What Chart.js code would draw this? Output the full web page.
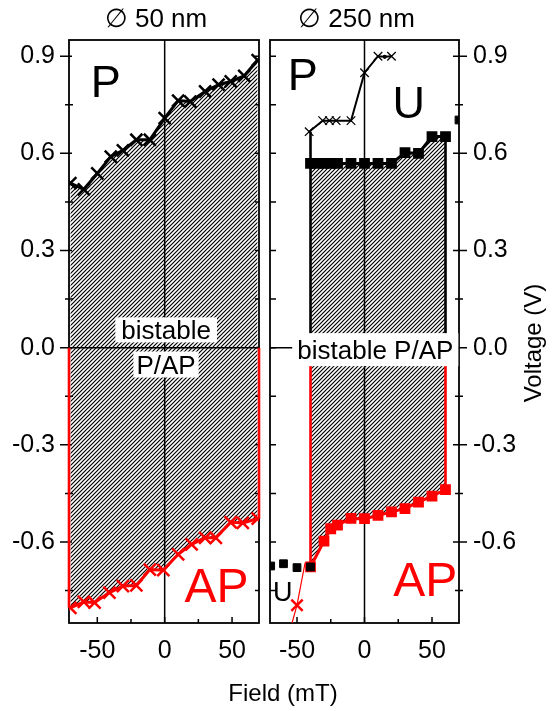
<!DOCTYPE html>
<html>
<head>
<meta charset="utf-8">
<script src="https://cdn.jsdelivr.net/npm/chart.js@4.4.0/dist/chart.umd.min.js"></script>
<style>
  html, body { margin: 0; padding: 0; background: #fff; }
  #wrap { position: relative; width: 554px; height: 711px; }
  canvas { position: absolute; left: 0; top: 0; }
</style>
</head>
<body>
<div id="wrap">
  <canvas id="left" width="554" height="711"></canvas>
  <canvas id="right" width="554" height="711"></canvas>
</div>
<script>
// ---- data ----
// 50 nm pillar
var p50Field  = [-70, -60, -50, -40, -31, -21, -11, 0, 10, 19, 30, 40, 49, 59, 69];
var p50V      = [0.508, 0.489, 0.538, 0.590, 0.609, 0.642, 0.642, 0.709, 0.763, 0.760, 0.791, 0.812, 0.822, 0.839, 0.888];
var ap50Field = [-70, -60, -52, -41, -31, -21, -11, -1, 10, 20, 30, 38, 49, 58, 69];
var ap50V     = [-0.803, -0.785, -0.787, -0.756, -0.736, -0.734, -0.685, -0.687, -0.638, -0.607, -0.587, -0.587, -0.539, -0.541, -0.528];

// 250 nm pillar
var p250Field  = [-40, -35, -30, -25, -20, -10, 0, 10, 20, 30, 40, 50, 60];
var p250V      = [0.569, 0.569, 0.569, 0.569, 0.569, 0.569, 0.569, 0.569, 0.569, 0.602, 0.600, 0.652, 0.652];
var ap250Field = [-40, -30, -25, -20, -10, 0, 10, 20, 30, 40, 50, 60];
var ap250V     = [-0.677, -0.597, -0.559, -0.548, -0.527, -0.528, -0.518, -0.507, -0.497, -0.477, -0.458, -0.438];
var pHighField = [70];
var pHighV     = [0.703];
var uHighField = [-41, -31, -26, -21, -10, 0, 10, 15, 20];
var uHighV     = [0.667, 0.701, 0.701, 0.701, 0.701, 0.849, 0.900, 0.898, 0.900];
var uLowField  = [-69.5, -60, -50, -40];
var uLowV      = [-0.674, -0.667, -0.679, -0.677];
var apUField   = [-44, -50, -57];
var apUV       = [-0.664, -0.795, -0.900];

// ticks
var yTicks = [-0.6, -0.3, 0, 0.3, 0.6, 0.9];
var xTicks = [-50, 0, 50];
var yMin = -0.85, yMax = 0.95;

var FONT = '"Liberation Sans", Arial, sans-serif';
Chart.defaults.font.family = FONT;
Chart.defaults.color = '#000';

function pts(xs, ys) {
  return xs.map(function (x, i) { return { x: x, y: ys[i] }; });
}

function hatch() {
  var c = document.createElement('canvas');
  c.width = 4; c.height = 4;
  var g = c.getContext('2d');
  g.strokeStyle = '#000';
  g.lineWidth = 1.2;
  g.beginPath();
  g.moveTo(0, 4); g.lineTo(4, 0);
  g.moveTo(-1, 1); g.lineTo(1, -1);
  g.moveTo(3, 5); g.lineTo(5, 3);
  g.stroke();
  return g.createPattern(c, 'repeat');
}

// frame, zero lines and tick marks (in/out lengths per side)
var framePlugin = {
  id: 'frame',
  beforeDatasetsDraw: function (chart, args, opts) {
    var ctx = chart.ctx, a = chart.chartArea;
    var xs = chart.scales.x, ys = chart.scales.y;
    ctx.save();
    ctx.strokeStyle = '#000';
    ctx.lineWidth = 1.5;
    ctx.beginPath();
    var x0 = xs.getPixelForValue(0), y0 = ys.getPixelForValue(0);
    ctx.moveTo(x0, a.top); ctx.lineTo(x0, a.bottom);
    ctx.moveTo(a.left, y0); ctx.lineTo(a.right, y0);
    ctx.stroke();

    function minors(major, min, max) {
      var step = major[1] - major[0];
      var out = major.map(function (v) { return v - step / 2; });
      out.push(major[major.length - 1] + step / 2);
      return out.filter(function (v) { return v > min && v < max; });
    }
    ctx.lineWidth = 1.5;
    ctx.beginPath();
    var yMaj = yTicks, yMinr = minors(yTicks, yMin, yMax);
    function side(spec, isLeft) {
      if (!spec) return;
      var ex = isLeft ? a.left : a.right;
      var sgn = isLeft ? -1 : 1;
      yMaj.forEach(function (v) {
        var p = ys.getPixelForValue(v);
        ctx.moveTo(ex + sgn * spec[0], p); ctx.lineTo(ex - sgn * spec[1], p);
      });
      yMinr.forEach(function (v) {
        var p = ys.getPixelForValue(v);
        ctx.moveTo(ex + sgn * spec[2], p); ctx.lineTo(ex - sgn * spec[3], p);
      });
    }
    side(opts.left, true);
    side(opts.right, false);
    if (opts.bottom) {
      var b = opts.bottom;
      xTicks.forEach(function (v) {
        var p = xs.getPixelForValue(v);
        ctx.moveTo(p, a.bottom + b[0]); ctx.lineTo(p, a.bottom - b[1]);
      });
      minors(xTicks, xs.min, xs.max).forEach(function (v) {
        var p = xs.getPixelForValue(v);
        ctx.moveTo(p, a.bottom + b[2]); ctx.lineTo(p, a.bottom - b[3]);
      });
    }
    ctx.stroke();
    ctx.lineWidth = 1.8;
    ctx.strokeRect(a.left, a.top, a.right - a.left, a.bottom - a.top);
    ctx.restore();
  }
};

// text inside and around the panels
var textPlugin = {
  id: 'texts',
  afterDraw: function (chart, args, opts) {
    var ctx = chart.ctx, a = chart.chartArea;
    var xs = chart.scales.x, ys = chart.scales.y;
    ctx.save();
    (opts.items || []).forEach(function (it) {
      var cx = xs.getPixelForValue(it.x), cy = ys.getPixelForValue(it.y);
      ctx.font = it.size + 'px ' + FONT;
      ctx.textAlign = 'center';
      ctx.textBaseline = 'alphabetic';
      if (it.box) {
        var w = ctx.measureText(it.text).width + 2 * it.padX;
        ctx.fillStyle = '#fff';
        ctx.fillRect(cx - w / 2, cy - it.h / 2, w, it.h);
      }
      ctx.fillStyle = it.color || '#000';
      ctx.fillText(it.text, cx, cy + it.size * 0.716 / 2);
    });
    ctx.fillStyle = '#000';
    if (opts.title) {
      ctx.font = '26px ' + FONT;
      ctx.textAlign = 'center';
      ctx.fillText(opts.title, (a.left + a.right) / 2 - 8, 27);
    }
    if (opts.xTitle) {
      ctx.font = '24px ' + FONT;
      ctx.textAlign = 'center';
      ctx.fillText(opts.xTitle, 283, 701);
    }
    if (opts.yTitle) {
      ctx.font = '24px ' + FONT;
      ctx.textAlign = 'center';
      ctx.textBaseline = 'middle';
      ctx.translate(534, 343);
      ctx.rotate(-Math.PI / 2);
      ctx.fillText(opts.yTitle, 0, 0);
    }
    ctx.restore();
  }
};

function scales(xmin, xmax, yPos, yWidth) {
  return {
    x: {
      type: 'linear', min: xmin, max: xmax,
      grid: { display: false }, border: { display: false },
      afterBuildTicks: function (s) { s.ticks = xTicks.map(function (v) { return { value: v }; }); },
      afterFit: function (s) { s.height = 88; },
      ticks: { font: { size: 25 }, padding: 5, maxRotation: 0, callback: function (v) { return String(v); } }
    },
    y: {
      type: 'linear', position: yPos, min: yMin, max: yMax,
      grid: { display: false }, border: { display: false },
      afterBuildTicks: function (s) { s.ticks = yTicks.map(function (v) { return { value: v }; }); },
      afterFit: function (s) { s.width = yWidth; },
      ticks: { font: { size: 25 }, padding: 6, callback: function (v) { return v.toFixed(1); } }
    }
  };
}

function edge(x, y1, y2, color) {
  return {
    data: [{ x: x, y: y1 }, { x: x, y: y2 }],
    borderColor: color, borderWidth: 2.6, pointRadius: 0, fill: false, clip: false
  };
}

var common = {
  responsive: false,
  animation: false,
  events: [],
  plugins: { legend: { display: false }, tooltip: { enabled: false }, filler: { drawTime: 'beforeDatasetsDraw' } }
};

// ---- left panel: 50 nm ----
new Chart(document.getElementById('left').getContext('2d'), {
  type: 'line',
  data: {
    datasets: [
      {
        data: pts(p50Field, p50V), borderColor: '#000', borderWidth: 3,
        pointStyle: 'crossRot', pointRadius: 8.5, pointBorderWidth: 2.5, pointBorderColor: '#000',
        fill: 1, backgroundColor: hatch()
      },
      {
        data: pts(ap50Field, ap50V), borderColor: '#f00', borderWidth: 3,
        pointStyle: 'crossRot', pointRadius: 8.5, pointBorderWidth: 2.5, pointBorderColor: '#f00', fill: false
      },
      edge(-71, 0, ap50V[0], '#f00'),
      edge(70, 0, ap50V[ap50V.length - 1], '#f00')
    ]
  },
  options: Object.assign({}, common, {
    layout: { padding: { left: 0, right: 295, top: 40, bottom: 0 } },
    scales: scales(-71, 70, 'left', 69),
    plugins: Object.assign({}, common.plugins, {
      frame: { left: [9, 3, 4, 4], right: [0, 4, 0, 4], bottom: [0, 6, 0, 4] },
      texts: {
        title: '\u2205 50 nm',
        items: [
          { text: 'P', x: -43.7, y: 0.823, size: 45 },
          { text: 'AP', x: 38.5, y: -0.731, size: 48, color: '#f00' },
          { text: 'bistable', x: 1.1, y: 0.055, size: 26, box: true, padX: 6, h: 25 },
          { text: 'P/AP', x: 1, y: -0.052, size: 26, box: true, padX: 3, h: 26 }
        ]
      }
    })
  }),
  plugins: [framePlugin, textPlugin]
});

// ---- right panel: 250 nm ----
new Chart(document.getElementById('right').getContext('2d'), {
  type: 'line',
  data: {
    datasets: [
      {
        data: pts(uLowField, uLowV), showLine: false, pointStyle: 'rect', pointRadius: 5.5,
        pointBackgroundColor: '#000', pointBorderColor: '#000', pointBorderWidth: 1, fill: false
      },
      {
        data: pts(uHighField, uHighV), borderColor: '#000', borderWidth: 2,
        pointStyle: ['crossRot', 'crossRot', 'crossRot', 'crossRot', 'crossRot', 'crossRot', 'crossRot', 'circle', 'crossRot'],
        pointRadius: [6, 6, 6, 6, 6, 6, 6, 1.5, 6], pointBorderWidth: 1.3,
        pointBorderColor: '#000', pointBackgroundColor: '#000', fill: false
      },
      {
        data: pts(pHighField, pHighV), showLine: false, pointStyle: 'rect', pointRadius: 5.5,
        pointBackgroundColor: '#000', pointBorderColor: '#000', fill: false
      },
      edge(-40, p250V[0], uHighV[0], '#000'),
      {
        data: pts(p250Field, p250V), borderColor: '#000', borderWidth: 3,
        pointStyle: 'rect', pointRadius: 5.5, pointBackgroundColor: '#000', pointBorderColor: '#000',
        fill: 5, backgroundColor: hatch()
      },
      {
        data: pts(ap250Field, ap250V), borderColor: '#f00', borderWidth: 3,
        pointStyle: 'rect', pointRadius: 5.5, pointBackgroundColor: '#f00', pointBorderColor: '#f00', fill: false
      },
      {
        data: pts(apUField, apUV), borderColor: '#f00', borderWidth: 1.2,
        pointStyle: 'crossRot', pointRadius: [0, 8, 0], pointBorderWidth: 2.5, pointBorderColor: '#f00', fill: false
      },
      edge(-40, p250V[0], 0, '#000'),
      edge(60, p250V[p250V.length - 1], 0, '#000'),
      edge(-40, 0, -0.69, '#f00'),
      edge(60, 0, ap250V[ap250V.length - 1], '#f00')
    ]
  },
  options: Object.assign({}, common, {
    layout: { padding: { left: 270, right: 0, top: 40, bottom: 0 } },
    scales: scales(-70, 70, 'right', 95),
    plugins: Object.assign({}, common.plugins, {
      frame: { left: [0, 6, 0, 6], right: [8, 6, 4, 4], bottom: [0, 6, 0, 4] },
      texts: {
        title: '\u2205 250 nm',
        xTitle: 'Field (mT)',
        yTitle: 'Voltage (V)',
        items: [
          { text: 'P', x: -45.7, y: 0.845, size: 45 },
          { text: 'U', x: 32.8, y: 0.759, size: 45 },
          { text: 'AP', x: 45, y: -0.715, size: 48, color: '#f00' },
          { text: 'U', x: -60.5, y: -0.752, size: 27 },
          { text: 'bistable P/AP', x: 8, y: -0.006, size: 26, box: true, padX: 5, h: 33 }
        ]
      }
    })
  }),
  plugins: [framePlugin, textPlugin]
});
</script>
</body>
</html>
